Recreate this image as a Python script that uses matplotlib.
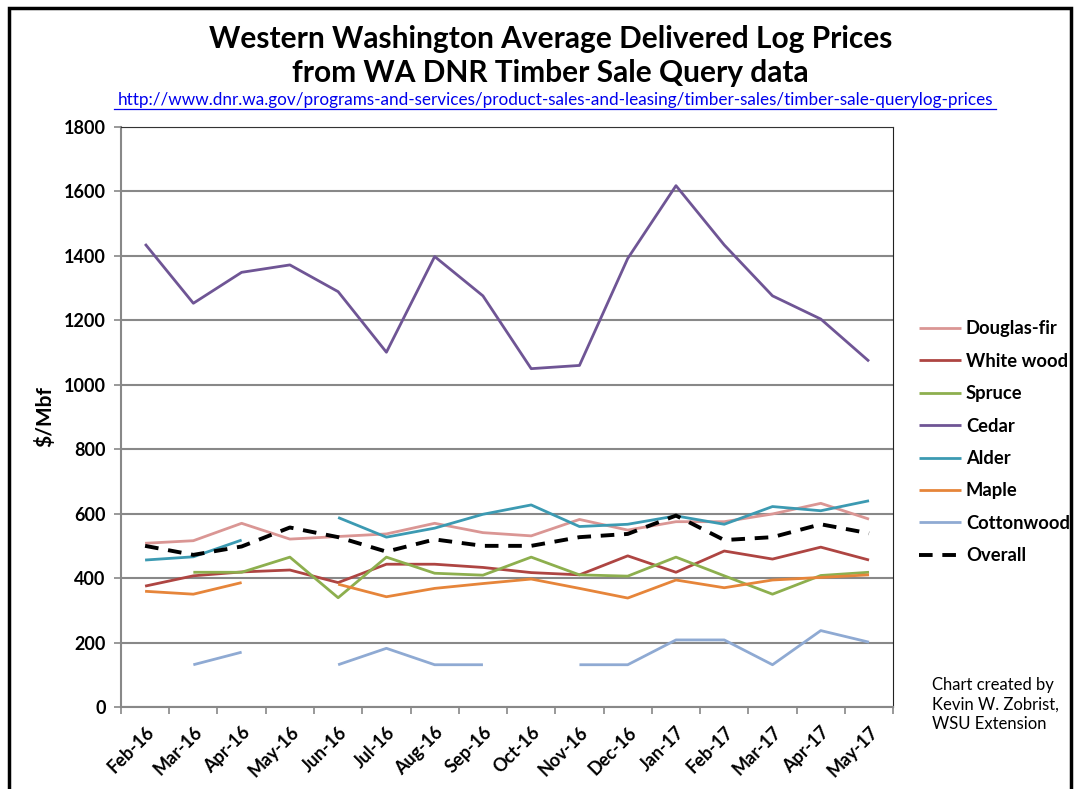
import matplotlib.pyplot as plt
from matplotlib.patches import Rectangle
import numpy as np

nan = np.nan

months = ["Feb-16", "Mar-16", "Apr-16", "May-16", "Jun-16", "Jul-16", "Aug-16", "Sep-16",
          "Oct-16", "Nov-16", "Dec-16", "Jan-17", "Feb-17", "Mar-17", "Apr-17", "May-17"]

douglas_fir = [508, 516, 570, 521, 529, 537, 570, 541, 531, 582, 549, 575, 575, 599, 632, 583]
white_wood = [375, 407, 419, 425, 386, 443, 443, 433, 417, 410, 469, 418, 484, 459, 496, 456]
spruce = [nan, 418, 418, 465, 339, 465, 415, 409, 465, 410, 406, 465, 407, 350, 408, 418]
cedar = [1437, 1253, 1349, 1372, 1289, 1101, 1398, 1276, 1050, 1060, 1392, 1618, 1434, 1276, 1204, 1073]
alder = [456, 466, 518, nan, 588, 527, 555, 598, 627, 560, 567, 593, 567, 622, 609, 640]
maple = [359, 350, 386, nan, 381, 342, 368, 383, 397, 368, 338, 394, 370, 394, 402, 410]
cottonwood = [nan, 131, 170, nan, 131, 182, 131, 131, nan, 131, 131, 208, 208, 131, 237, 201]
overall = [500, 472, 498, 557, 527, 482, 520, 500, 500, 527, 537, 594, 518, 527, 567, 539]

series = [
    ("Douglas-fir", douglas_fir, "#DA9694"),
    ("White wood", white_wood, "#AE4542"),
    ("Spruce", spruce, "#8DAF4E"),
    ("Cedar", cedar, "#6F5595"),
    ("Alder", alder, "#3C9AB2"),
    ("Maple", maple, "#E6853A"),
    ("Cottonwood", cottonwood, "#8FAAD3"),
]

plt.rcParams['font.family'] = ['Lato', 'DejaVu Sans']

fig = plt.figure(figsize=(10.8, 7.89), dpi=100)
ax = fig.add_axes([0.112, 0.104, 0.715, 0.735])

x = np.arange(len(months))
for name, vals, col in series:
    ax.plot(x, vals, color=col, lw=2.0, label=name, solid_capstyle='butt')
ax.plot(x, overall, color='black', lw=2.8, ls=(0, (3.5, 2.5)), label="Overall")

ax.set_xlim(-0.5, len(months) - 0.5)
ax.set_ylim(0, 1800)
ax.set_yticks(np.arange(0, 1801, 200))
ax.yaxis.grid(True, color='#888888', lw=1.5)
ax.set_axisbelow(True)

# labels at category centers, tick marks between categories
ax.set_xticks(x)
ax.set_xticklabels(months, rotation=45, ha='right', va='top', rotation_mode='anchor',
                   fontsize=13, fontweight='bold')
ax.set_xticks(np.arange(-0.5, len(months)), minor=True)
ax.tick_params(axis='x', which='major', length=0, pad=12)
ax.tick_params(axis='x', which='minor', length=5, color='#888888', width=1.2, direction='out')
ax.tick_params(axis='y', length=5, color='#888888', width=1.2, labelsize=13, pad=6)
for lbl in ax.get_yticklabels():
    lbl.set_fontweight('bold')

ax.spines['left'].set_color('#888888')
ax.spines['bottom'].set_color('#888888')
ax.spines['left'].set_linewidth(1.5)
ax.spines['bottom'].set_linewidth(1.5)
ax.spines['top'].set_color('#333333')
ax.spines['right'].set_color('#222222')

ax.set_ylabel("$/Mbf", fontsize=15, fontweight='bold', labelpad=6)

leg = fig.legend(loc='upper left', bbox_to_anchor=(0.851, 0.594), frameon=False,
                 prop={'size': 13.2, 'weight': 'bold'}, handlelength=2.3, handletextpad=0.25,
                 labelspacing=0.84, borderpad=0, borderaxespad=0)

fig.text(0.51, 0.950, "Western Washington Average Delivered Log Prices",
         ha='center', va='center', fontsize=21.5, fontweight='bold')
fig.text(0.51, 0.908, "from WA DNR Timber Sale Query data",
         ha='center', va='center', fontsize=21.5, fontweight='bold')
fig.text(0.514, 0.873,
         "http://www.dnr.wa.gov/programs-and-services/product-sales-and-leasing/timber-sales/timber-sale-querylog-prices",
         ha='center', va='center', fontsize=12.3, color='#0000EE')
# underline for the link
fig.add_artist(plt.Line2D([0.106, 0.922], [0.862, 0.862], color='#0000EE', lw=0.9))

fig.text(0.863, 0.107, "Chart created by\nKevin W. Zobrist,\nWSU Extension",
         ha='left', va='center', fontsize=12, linespacing=1.3)

fig.add_artist(Rectangle((0.008, -0.01), 0.984, 1.0, transform=fig.transFigure,
                         fill=False, ec='black', lw=2.5))

fig.savefig("out.png", dpi=100)
